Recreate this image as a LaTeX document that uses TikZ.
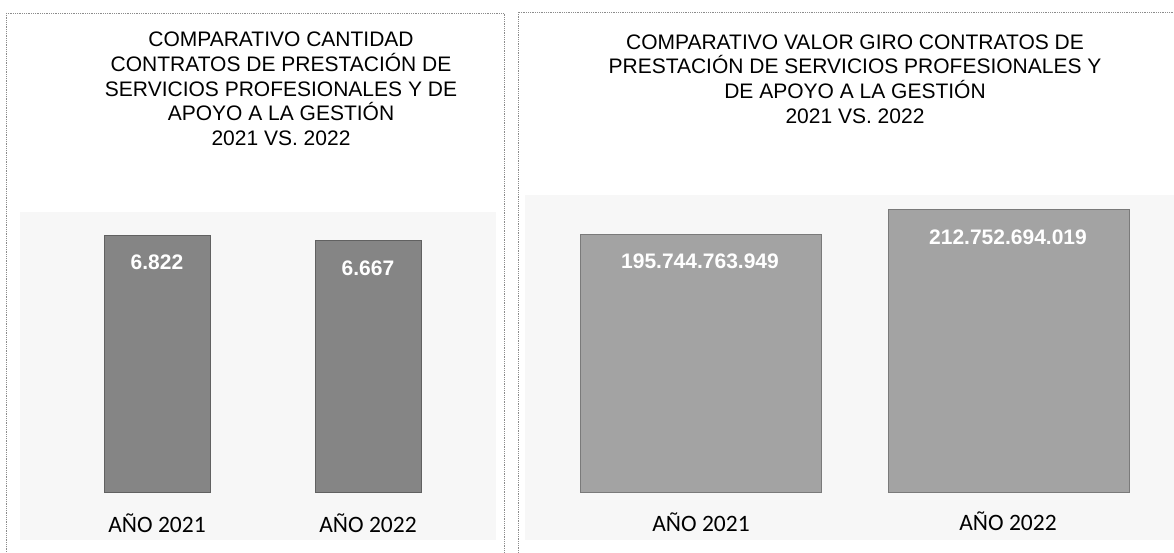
\documentclass[tikz,border=0pt]{standalone}
\usepackage{fontspec}
\setmainfont{Liberation Sans}
\newfontfamily\calib{Carlito}
\begin{document}
\begin{tikzpicture}[x=1pt,y=-1pt,
  panel/.style={draw=black!45, line width=0.8pt, densely dotted},
  plotarea/.style={fill=black!3, draw=none},
  barL/.style={fill=black!48, draw=black!62, line width=0.6pt},
  barR/.style={fill=black!36, draw=black!52, line width=0.6pt},
  ttl/.style={align=center, anchor=north, inner sep=0pt, font=\fontsize{21}{24.75}\selectfont},
  val/.style={text=white, inner sep=0pt, font=\fontsize{21}{24}\selectfont\bfseries},
  yr/.style={inner sep=0pt, anchor=base, font=\calib\fontsize{23.5}{26}\selectfont}]
\useasboundingbox (0,0) rectangle (1174,553);
\fill[white] (0,0) rectangle (1174,553);
% plot areas
\fill[plotarea] (20,212) rectangle (496,540);
\fill[plotarea] (525,195) rectangle (1174,540);
% panels
\draw[panel] (6,13) -- (504,13) -- (504,560);
\draw[panel] (6,13) -- (6,560);
\draw[panel] (518,560) -- (518,12) -- (1180,12);
% titles
\node[ttl] (t1) at (281,31.7) {COMPARATIVO CANTIDAD\\CONTRATOS DE PRESTACIÓN DE\\SERVICIOS PROFESIONALES Y DE\\APOYO A LA GESTIÓN\\2021 VS. 2022};
\node[ttl] (t2) at (855,34.2) {COMPARATIVO VALOR GIRO CONTRATOS DE\\PRESTACIÓN DE SERVICIOS PROFESIONALES Y\\DE APOYO A LA GESTIÓN\\2021 VS. 2022};
% left bars
\draw[barL] (104,235) rectangle (210,492);
\draw[barL] (315,240) rectangle (421,492);
\node[val] (v1) at (157,262) {6.822};
\node[val] (v2) at (368,268) {6.667};
\node[yr] (y1) at (157,532) {AÑO 2021};
\node[yr] (y2) at (368,532) {AÑO 2022};
% right bars
\draw[barR] (580,234) rectangle (821,492);
\draw[barR] (888,209) rectangle (1129,492);
\node[val] (v3) at (700,261) {195.744.763.949};
\node[val] (v4) at (1008,237) {212.752.694.019};
\node[yr] (y3) at (701,531) {AÑO 2021};
\node[yr] (y4) at (1008,530) {AÑO 2022};
\end{tikzpicture}
\end{document}
